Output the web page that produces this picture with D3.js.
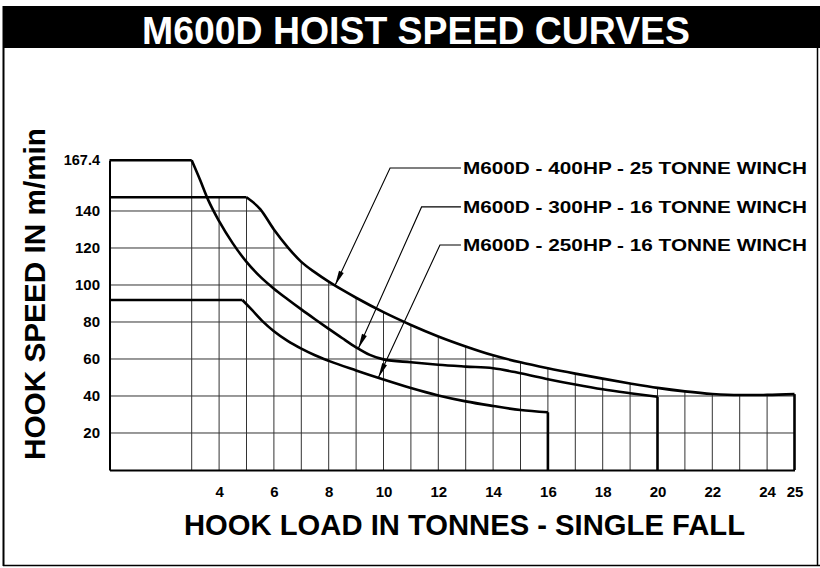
<!DOCTYPE html>
<html><head><meta charset="utf-8">
<script src="https://cdn.jsdelivr.net/npm/d3@7"></script>
<style>
html,body{margin:0;padding:0;background:#fff;}
svg{display:block;}
text{font-family:"Liberation Sans", Arial, Helvetica, sans-serif;}
</style></head><body>
<svg id="c" width="820" height="568"></svg>
<script>
// ---------- data ----------
const title = "M600D HOIST SPEED CURVES";
const xTitle = "HOOK LOAD IN TONNES - SINGLE FALL";
const yTitle = "HOOK SPEED IN m/min";
const seriesNames = ["M600D - 400HP - 25 TONNE WINCH", "M600D - 300HP - 16 TONNE WINCH", "M600D - 250HP - 16 TONNE WINCH"];

const load400  = [0, 5, 5.5, 6, 6.5, 7, 7.5, 8, 8.5, 9, 10, 11, 12, 13, 14, 15, 16, 17, 18, 19, 20, 21, 22, 23, 24, 25, 25];
const speed400 = [147.4, 147.4, 141, 130, 120.5, 112.5, 106.8, 101.8, 97.3, 93.1, 85.3, 78.4, 72.2, 66.8, 62, 58.2, 55, 52.1, 49.4, 46.8, 44.4, 42.5, 41.1, 40.5, 40.6, 41, 0];

const load300  = [0, 3, 3.3, 3.6, 4, 4.5, 5, 5.5, 6, 6.5, 7, 7.5, 8, 8.5, 9, 9.5, 10, 11, 12, 13, 14, 15, 16, 17, 18, 19, 20, 20];
const speed300 = [167.4, 167.4, 157, 146, 134.5, 122.5, 112.5, 104.5, 98, 92.3, 86.8, 81.5, 76.3, 71.2, 66.3, 62.2, 59.8, 58.2, 56.9, 55.9, 55, 52.3, 49.1, 46.2, 43.6, 41.5, 39.6, 0];

const load250  = [0, 4.85, 5.2, 5.6, 6, 6.5, 7, 7.5, 8, 9, 10, 11, 12, 13, 14, 15, 16, 16];
const speed250 = [91.9, 91.9, 86.5, 80.2, 75, 69.8, 65.6, 62, 59, 53.8, 48.9, 44.3, 40.3, 37.1, 34.6, 32.4, 31.2, 0];

const xTickValues = [4, 6, 8, 10, 12, 14, 16, 18, 20, 22, 24, 25];
const yTickValues = [20, 40, 60, 80, 100, 120, 140, 167.4];
const xGridValues = [3, 4, 5, 6, 7, 8, 9, 10, 11, 12, 13, 14, 15, 16, 17, 18, 19, 20, 21, 22, 23, 24, 25];
const yGridValues = [20, 40, 60, 80, 100, 120, 140];

// annotation anchors (data units)
const labelLoad = 12.9;
const labelSpeeds = [163.2, 142.2, 121.6];
const elbowLoads = [10.24, 11.39, 12.06];
const tipLoads = [8.23, 9.08, 9.81];

// ---------- drawing ----------
const svg = d3.select("#c");
const W = 820, H = 568;
const x = d3.scaleLinear().domain([0, 25]).range([109.5, 794.5]);
const y = d3.scaleLinear().domain([0, 167.4]).range([470, 160.3]);

const series = [
  {name: seriesNames[0], xs: load400, ys: speed400},
  {name: seriesNames[1], xs: load300, ys: speed300},
  {name: seriesNames[2], xs: load250, ys: speed250}
].map(s => ({...s, pts: s.xs.map((v, i) => [v, s.ys[i]])}));

// frame & title band
svg.append("rect").attr("x", 3).attr("y", 6).attr("width", W - 3).attr("height", 42).attr("fill", "#000");
svg.append("text").attr("x", 416).attr("y", 43.5).attr("text-anchor", "middle")
  .attr("font-size", 39).attr("font-weight", "bold").attr("fill", "#fff")
  .attr("textLength", 548).attr("lengthAdjust", "spacingAndGlyphs").text(title);
svg.append("line").attr("x1", 3.5).attr("x2", 3.5).attr("y1", 6).attr("y2", 566).attr("stroke", "#000").attr("stroke-width", 2);
svg.append("line").attr("x1", 3).attr("x2", W).attr("y1", 565.5).attr("y2", 565.5).attr("stroke", "#000").attr("stroke-width", 1.5);
svg.append("line").attr("x1", 817.5).attr("x2", 817.5).attr("y1", 48).attr("y2", 566).attr("stroke", "#000").attr("stroke-width", 1.5);

// clip: union of areas under each series
const defs = svg.append("defs");
const clip = defs.append("clipPath").attr("id", "under");
series.forEach(s => {
  const poly = s.pts.slice();
  poly.push([s.xs[s.xs.length - 1], 0], [s.xs[0], 0]);
  clip.append("path").attr("d", "M" + poly.map(p => [x(p[0]), y(p[1])].join(",")).join("L") + "Z");
});

const grid = svg.append("g").attr("clip-path", "url(#under)").attr("stroke", "#333").attr("stroke-width", 1);
grid.selectAll("line.gx").data(xGridValues).join("line").attr("class", "gx")
  .attr("x1", d => x(d)).attr("x2", d => x(d)).attr("y1", y(0)).attr("y2", y(167.4));
grid.selectAll("line.gy").data(yGridValues).join("line").attr("class", "gy")
  .attr("x1", x(0)).attr("x2", x(25)).attr("y1", d => y(d)).attr("y2", d => y(d));

// axes
const yAxis = d3.axisLeft(y).tickValues(yTickValues).tickSize(0).tickPadding(9.5).tickFormat(d => String(d));
const gy = svg.append("g").attr("transform", `translate(${x(0)},0)`).call(yAxis);
gy.select(".domain").attr("stroke", "#000").attr("stroke-width", 2);
gy.selectAll("text").attr("font-size", d => d === 167.4 ? 14.5 : 15).attr("font-weight", "bold").attr("fill", "#000")
  .attr("font-family", '"Liberation Sans", Arial, sans-serif');

const xAxis = d3.axisBottom(x).tickValues(xTickValues).tickSize(0).tickPadding(16).tickFormat(d => String(d));
const gx = svg.append("g").attr("transform", `translate(0,${y(0)})`).call(xAxis);
gx.select(".domain").attr("stroke", "#000").attr("stroke-width", 2);
gx.selectAll("text").attr("font-size", 15).attr("font-weight", "bold").attr("fill", "#000")
  .attr("font-family", '"Liberation Sans", Arial, sans-serif');

// curves
const lin = d3.line().x(d => x(d[0])).y(d => y(d[1]));
const mono = d3.line().x(d => x(d[0])).y(d => y(d[1])).curve(d3.curveMonotoneX);
const curves = svg.append("g").attr("fill", "none").attr("stroke", "#000").attr("stroke-width", 2.6).attr("stroke-linejoin", "round");
series.forEach(s => {
  const n = s.pts.length;
  let f = 0; while (f + 1 < n && s.pts[f + 1][1] === s.pts[0][1]) f++;
  const flat = s.pts.slice(0, f + 1);
  const desc = s.pts.slice(f, n - 1);
  const drop = s.pts.slice(n - 2);
  curves.append("path").attr("d", lin(flat));
  curves.append("path").attr("d", mono(desc));
  curves.append("path").attr("d", lin(drop));
});

// annotations
function interp(s, v) {
  for (let i = 0; i < s.xs.length - 1; i++) {
    if (v >= s.xs[i] && v <= s.xs[i + 1] && s.xs[i + 1] > s.xs[i]) {
      const t = (v - s.xs[i]) / (s.xs[i + 1] - s.xs[i]);
      return s.ys[i] + t * (s.ys[i + 1] - s.ys[i]);
    }
  }
  return s.ys[0];
}
const ann = svg.append("g");
series.forEach((s, i) => {
  const lx = x(labelLoad), ly = y(labelSpeeds[i]);
  const ex = x(elbowLoads[i]);
  const tx = x(tipLoads[i]), ty = y(interp(s, tipLoads[i]));
  ann.append("path").attr("d", `M${lx - 2},${ly}L${ex},${ly}L${tx},${ty}`)
    .attr("fill", "none").attr("stroke", "#000").attr("stroke-width", 1.1);
  const dx = tx - ex, dy = ty - ly, L = Math.hypot(dx, dy), ux = dx / L, uy = dy / L;
  const bx = tx - ux * 15, by = ty - uy * 15;
  ann.append("path").attr("d", `M${tx},${ty}L${bx - uy * 2.6},${by + ux * 2.6}L${bx + uy * 2.6},${by - ux * 2.6}Z`).attr("fill", "#000");
  ann.append("text").attr("x", lx).attr("y", ly + 6).attr("font-size", 16.5).attr("font-weight", "bold").attr("fill", "#000")
    .attr("textLength", 344).attr("lengthAdjust", "spacingAndGlyphs").text(s.name);
});

// axis titles
svg.append("text").attr("x", 464.5).attr("y", 535).attr("text-anchor", "middle")
  .attr("font-size", 30).attr("font-weight", "bold").attr("fill", "#000")
  .attr("textLength", 561).attr("lengthAdjust", "spacingAndGlyphs").text(xTitle);
svg.append("text").attr("transform", "translate(45,294) rotate(-90)").attr("text-anchor", "middle")
  .attr("font-size", 30).attr("font-weight", "bold").attr("fill", "#000")
  .attr("textLength", 332).attr("lengthAdjust", "spacingAndGlyphs").text(yTitle);
</script>
</body></html>
